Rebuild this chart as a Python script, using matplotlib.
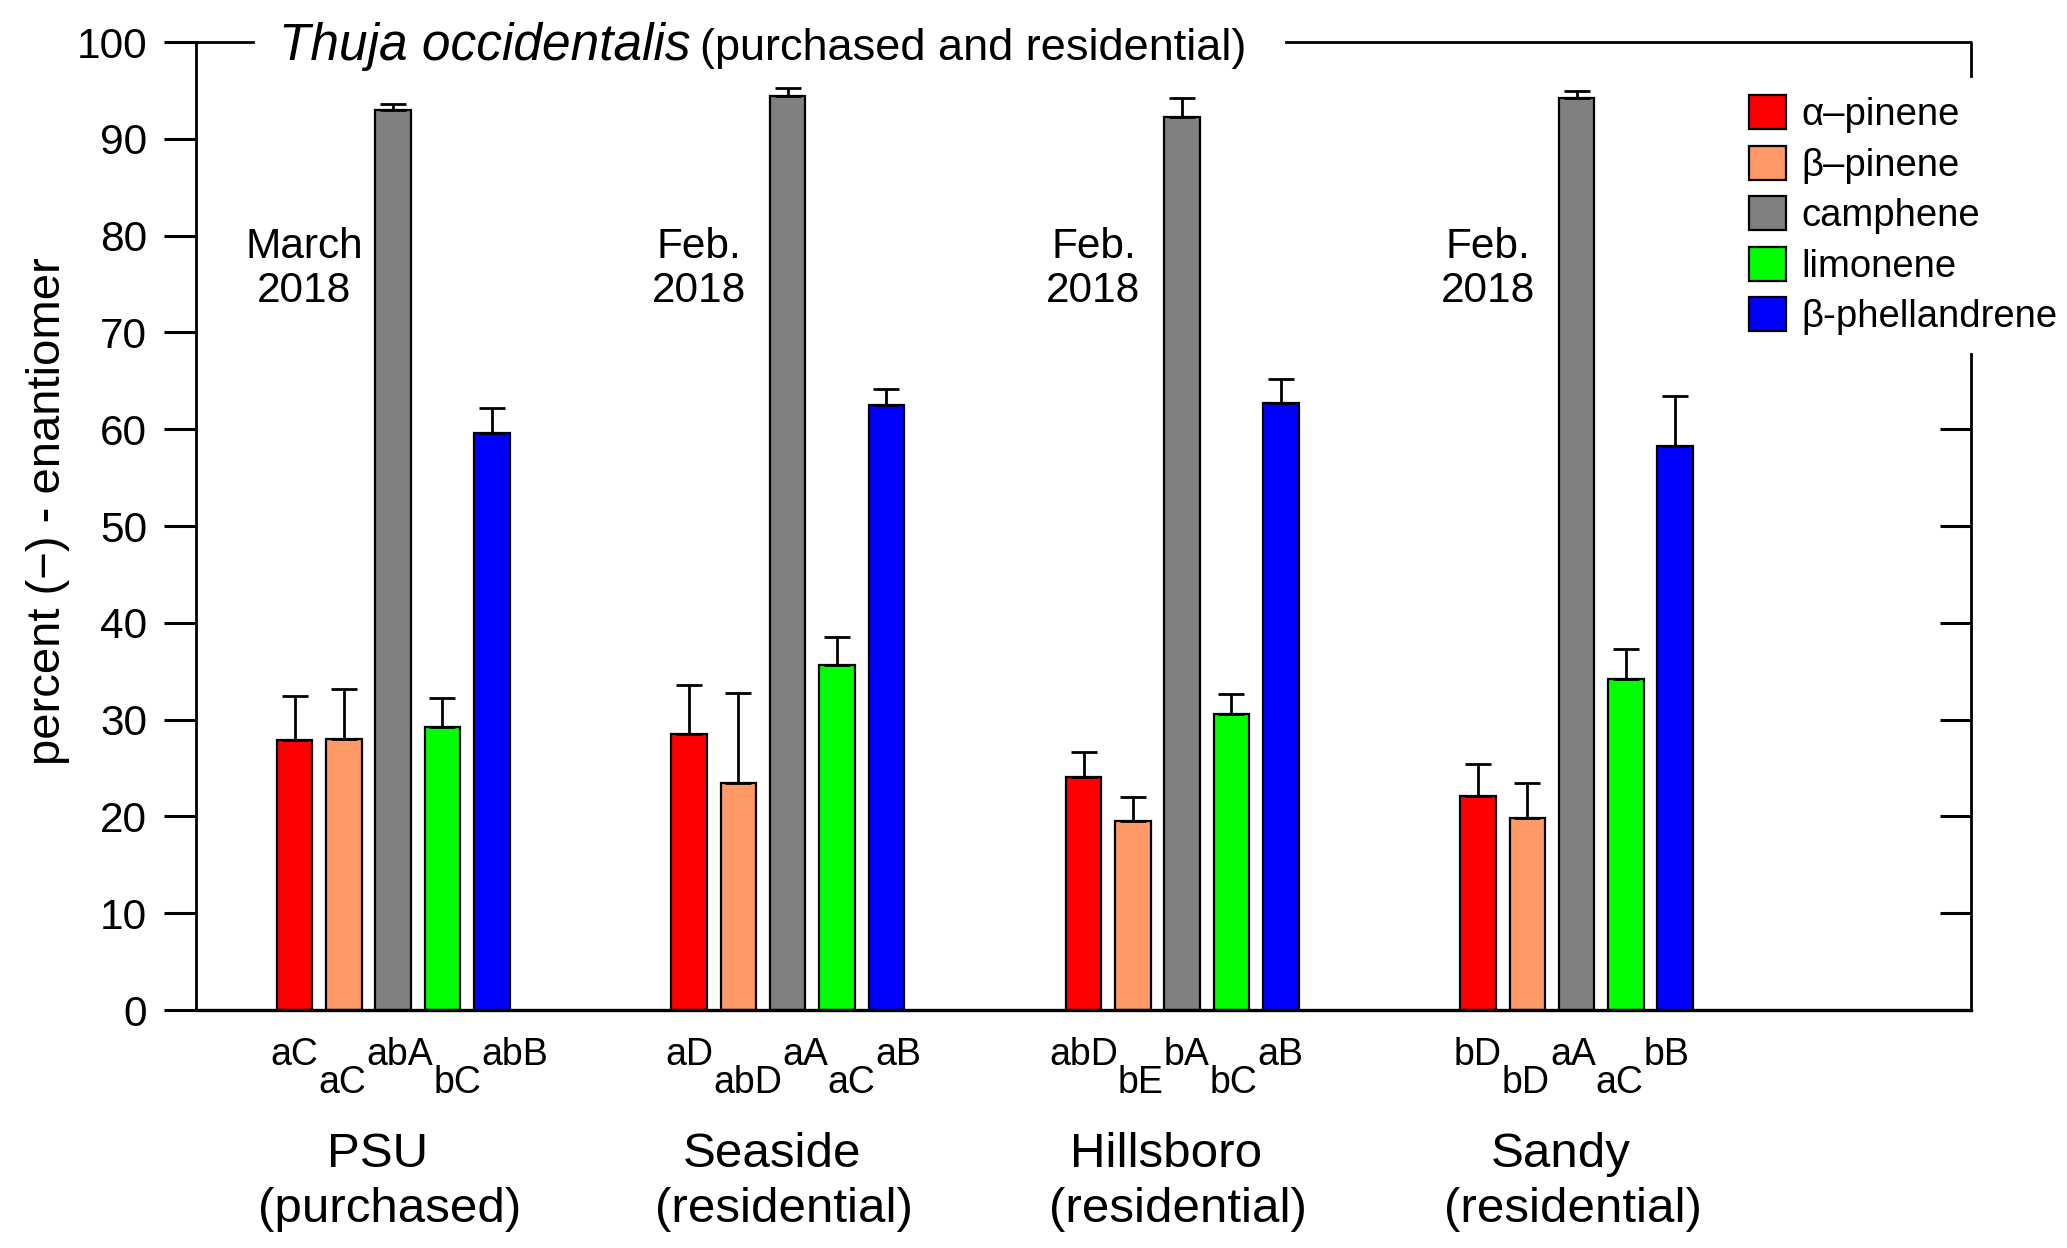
import matplotlib
matplotlib.use("Agg")
import matplotlib.pyplot as plt
import numpy as np

# -------------------------
# Data
# -------------------------
site_names = ["PSU", "Seaside", "Hillsboro", "Sandy"]
site_types = ["(purchased)", "(residential)", "(residential)", "(residential)"]
dates = ["March\n2018", "Feb.\n2018", "Feb.\n2018", "Feb.\n2018"]
compounds = ["\u03b1\u2013pinene", "\u03b2\u2013pinene", "camphene",
             "limonene", "\u03b2-phellandrene"]
colors = ["#ff0000", "#ff9966", "#808080", "#00ff00", "#0000ff"]

alpha_pinene = [27.9, 28.5, 24.1, 22.1]
alpha_pinene_err = [4.5, 5.1, 2.6, 3.3]
beta_pinene = [28.0, 23.5, 19.5, 19.8]
beta_pinene_err = [5.2, 9.3, 2.5, 3.7]
camphene = [93.0, 94.4, 92.3, 94.2]
camphene_err = [0.6, 0.9, 1.9, 0.7]
limonene = [29.2, 35.6, 30.6, 34.2]
limonene_err = [3.0, 2.9, 2.0, 3.1]
beta_phellandrene = [59.6, 62.5, 62.7, 58.3]
beta_phellandrene_err = [2.6, 1.7, 2.5, 5.1]

letters = [
    ["aC", "aC", "abA", "bC", "abB"],
    ["aD", "abD", "aA", "aC", "aB"],
    ["abD", "bE", "bA", "bC", "aB"],
    ["bD", "bD", "aA", "aC", "bB"],
]

means = [alpha_pinene, beta_pinene, camphene, limonene, beta_phellandrene]
errs = [alpha_pinene_err, beta_pinene_err, camphene_err, limonene_err,
        beta_phellandrene_err]

plt.rcParams["font.family"] = ["Liberation Sans", "DejaVu Sans"]

# -------------------------
# Figure
# -------------------------
fig = plt.figure(figsize=(20.67, 12.48), dpi=100)
ax = fig.add_axes([0.0948, 0.1907, 0.8588, 0.7756])

x = np.arange(len(site_names))
step = 0.125
width = 0.09
handles = []
for i in range(5):
    xi = x + (i - 2) * step
    b = ax.bar(xi, means[i], width, color=colors[i], edgecolor="black",
               linewidth=1.6, zorder=2)
    handles.append(b)
    ax.errorbar(xi, means[i], yerr=[np.zeros(4), errs[i]], fmt="none",
                ecolor="black", elinewidth=2.0, capsize=9.5, capthick=2.0,
                zorder=3)

ax.set_xlim(-0.5, 4.0)
ax.set_ylim(0, 100)
ax.set_yticks(np.arange(0, 101, 10))
ax.set_xticks([])
ax.tick_params(axis="y", direction="out", length=23, width=2.2,
               labelsize=30.5, pad=12)

for s in ["top", "right"]:
    ax.spines[s].set_visible(False)
ax.spines["left"].set_linewidth(2.0)
ax.spines["bottom"].set_linewidth(2.4)

# right side ticks (inward) below the legend
sec = ax.secondary_yaxis("right")
sec.set_yticks(np.arange(10, 61, 10))
sec.tick_params(direction="in", length=22, width=2.2, labelright=False)
sec.spines["right"].set_visible(False)

ax.set_ylabel("percent (\u2212) - enantiomer", fontsize=34)
ax.yaxis.set_label_coords(-0.071, 0.515)

# letters below bars: one run of text, alternating up / down
dy = 20.0  # points between the two levels
for g in range(len(site_names)):
    prev = ax.text(x[g] - 2 * step, -5.7, letters[g][0], fontsize=27,
                   ha="center", va="baseline", clip_on=False)
    for i in range(1, 5):
        off = -dy if i % 2 == 1 else dy
        prev = ax.annotate(letters[g][i], xy=(1, 0), xycoords=prev,
                           xytext=(0, off), textcoords="offset points",
                           fontsize=27, ha="left", va="bottom",
                           annotation_clip=False)
    ax.text(x[g] - 0.04, -16.2, site_names[g], fontsize=35.5, ha="center",
            va="baseline", clip_on=False)
    ax.text(x[g] - 0.01, -21.9, site_types[g], fontsize=35.5, ha="center",
            va="baseline", clip_on=False)
    ax.text(x[g] - 0.225, 76.6, dates[g], fontsize=30.5, ha="center",
            va="center", linespacing=1.13)

# legend
ax.legend(handles, compounds, loc="upper left", bbox_to_anchor=(0.875, 0.945),
          frameon=False, fontsize=27.5, handlelength=0.97, handleheight=0.98,
          labelspacing=0.33, handletextpad=0.4, borderpad=0, borderaxespad=0)

# title sitting on the top frame line
t1 = ax.text(-0.29, 98.1, "Thuja occidentalis", fontsize=37, style="italic",
             ha="left", va="baseline")
fig.canvas.draw()
inv = ax.transData.inverted()
e1 = t1.get_window_extent()
x_end1 = inv.transform((e1.x1, e1.y0))[0]
t2 = ax.text(x_end1 + 0.025, 98.1, "(purchased and residential)", fontsize=32.5,
             ha="left", va="baseline")
fig.canvas.draw()
e2 = t2.get_window_extent()
x_end2 = inv.transform((e2.x1, e2.y0))[0]

lk = dict(color="black", lw=2.0, clip_on=False, zorder=5,
          solid_capstyle="projecting")
ax.plot([-0.5, -0.29 - 0.065], [100, 100], **lk)
ax.plot([x_end2 + 0.1, 4.0, 4.0], [100, 100, 96.5], **lk)
ax.plot([4.0, 4.0], [67.8, 0], **lk)

fig.savefig("out.png", dpi=100)
